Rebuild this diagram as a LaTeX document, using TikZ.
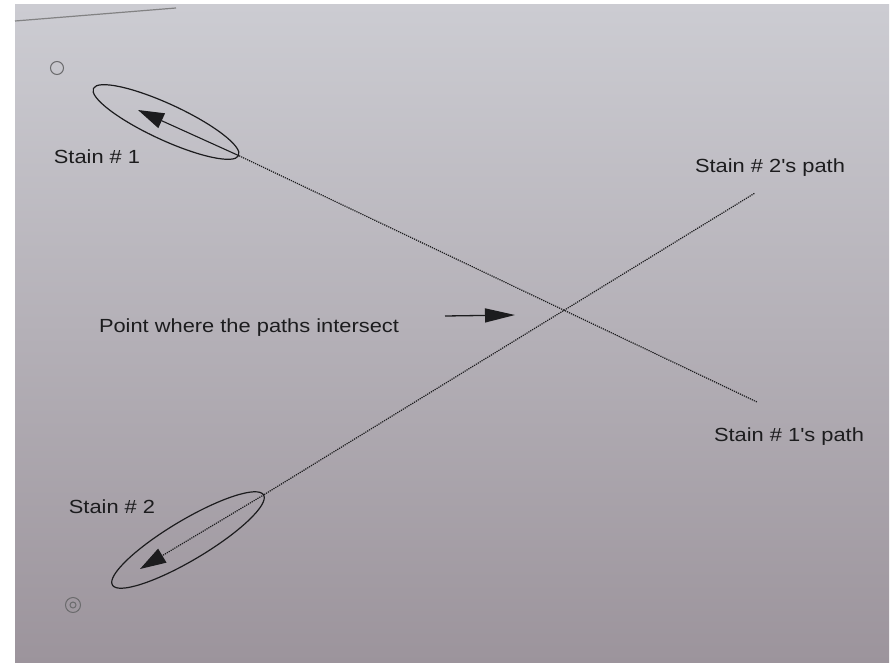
\documentclass[tikz,border=0pt]{standalone}
\usepackage{fontspec}
\usepackage{xcolor}
\usepackage{tikz}
\usetikzlibrary{arrows.meta, shapes.geometric}
\newfontfamily\labelfont[FakeStretch=1.15]{Liberation Sans}
\definecolor{papertop}{RGB}{204,204,210}
\definecolor{paperbot}{RGB}{156,148,156}
\definecolor{ink}{RGB}{28,28,30}
\tikzset{
  stain/.style={ellipse, draw=ink, line width=1.2pt, inner sep=0pt},
  lbl/.style={font=\labelfont\fontsize{19}{22}\selectfont, text=ink, inner sep=0pt},
  trail/.style={draw=ink, line width=1.2pt, densely dotted},
  hole/.style={circle, draw=ink!65, line width=1pt, inner sep=0pt},
}

\begin{document}
\begin{tikzpicture}[x=1pt, y=-1pt, >={Triangle[length=26pt,width=16pt]}]
  %% ── photo frame ──
  \fill[white] (0,0) rectangle (891,663);
  \shade[top color=papertop, bottom color=paperbot] (15,5) rectangle (889,663);
  \coordinate (edgeA) at (15,21);
  \coordinate (edgeB) at (176,8);
  \draw[ink!55, line width=1.2pt] (edgeA) -- (edgeB);

  %% ── punch holes ──
  \node[hole, minimum size=13pt] (H1) at (57,68) {};
  \node[hole, minimum size=15pt] (H2) at (73,605) {};
  \node[hole, minimum size=6pt]  (H2i) at (73,605) {};

  %% ── stains ──
  \node[stain, minimum width=160pt, minimum height=36pt, rotate=-24.8]
    (E1) at (166,122) {};
  \node[stain, minimum width=176pt, minimum height=40pt, rotate=30.8]
    (E2) at (188,540) {};

  \coordinate (tip1) at (138,110);
  \coordinate (tip2) at (140,569);
  \coordinate (end1) at (757,402);
  \coordinate (end2) at (755,193);

  %% ── direction arrows ──
  \draw[->, ink, line width=1.1pt] (E1.east) -- (tip1);
  \draw[->, ink, line width=1.2pt, densely dotted] (E2.east) -- (tip2);

  %% ── paths ──
  \draw[trail] (E1.east) -- (end1);
  \draw[trail] (E2.east) -- (end2);

  %% ── labels ──
  \node[lbl] (L1)  at (97,157)  {Stain \# 1};
  \node[lbl] (L2)  at (112,507) {Stain \# 2};
  \node[lbl] (P2)  at (770,168) {Stain \# 2's path};
  \node[lbl] (P1)  at (789,437) {Stain \# 1's path};
  \node[lbl] (X)   at (249,328) {Point where the paths intersect};

  %% ── pointer to crossing ──
  \coordinate (ptrs) at (445,316);
  \coordinate (ptr)  at (515,315);
  \draw[->, >={Triangle[length=30pt,width=14pt]}, ink, line width=1.3pt]
    (ptrs) -- (ptr);
\end{tikzpicture}
\end{document}
